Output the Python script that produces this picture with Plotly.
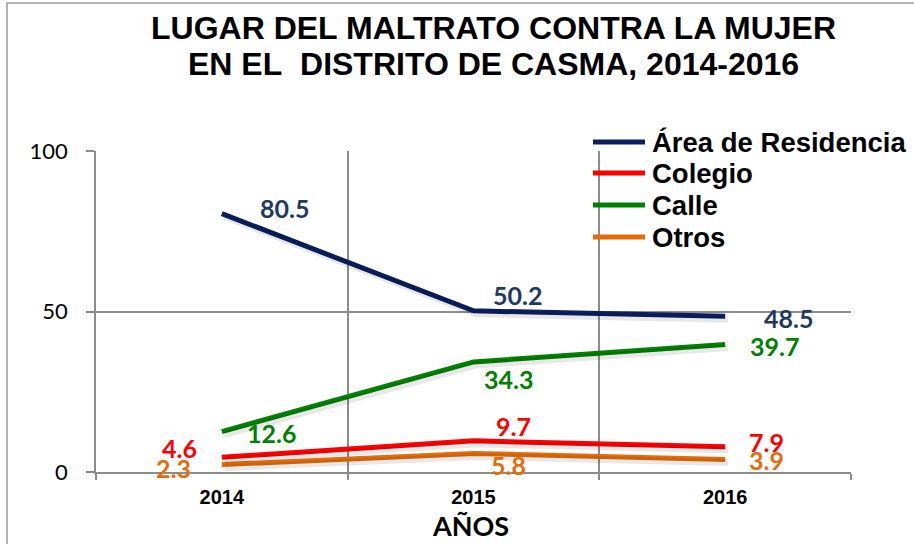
import plotly.graph_objects as go

# ---------------- data ----------------
years = ["2014", "2015", "2016"]
area_residencia = [80.5, 50.2, 48.5]
colegio = [4.6, 9.7, 7.9]
calle = [12.6, 34.3, 39.7]
otros = [2.3, 5.8, 3.9]
series_names = ["Área de Residencia", "Colegio", "Calle", "Otros"]
y_tick_values = [0, 50, 100]
title_lines = ["LUGAR DEL MALTRATO CONTRA LA MUJER", "EN EL\u00a0 DISTRITO DE CASMA, 2014-2016"]
x_title = "AÑOS"

series_values = [area_residencia, colegio, calle, otros]
x_pos = list(range(len(years)))

# ---------------- styles ----------------
W, H = 914, 544
PL, PR, PT, PB = 96, 851, 151, 472          # plot area in pixels
line_colors = ["#0B1F5E", "#FF0000", "#008000", "#E46C0A"]
label_colors = ["#1F3864", "#FF0000", "#008000", "#E46C0A"]
# per-point label pixel offsets (dx, dy up)
label_offsets = [
    [(63, 6), (44, 16), (63, -2)],
    [(-42, 9), (40, 15), (41, 5)],
    [(50, -1), (35, -17), (49, -1)],
    [(-48, -3), (35, -12), (41, -1)],
]
GRID = "#8C8C8C"


def px_x(px):
    return (px - PL) / (PR - PL)


def px_y(py):
    return (PB - py) / (PB - PT)


fig = go.Figure()

# soft drop shadows (same data on a slightly shifted overlay axis)
for vals in series_values:
    fig.add_trace(go.Scatter(x=x_pos, y=vals, mode="lines",
                             line=dict(color="rgba(0,0,0,0.09)", width=7),
                             xaxis="x2", yaxis="y2", hoverinfo="skip", showlegend=False))

for name, vals, col in zip(series_names, series_values, line_colors):
    fig.add_trace(go.Scatter(x=x_pos, y=vals, mode="lines", name=name,
                             line=dict(color=col, width=5), showlegend=False))

annotations = []
for vals, col, offs in zip(series_values, label_colors, label_offsets):
    for xv, yv, (dx, dy) in zip(x_pos, vals, offs):
        annotations.append(dict(x=xv, y=yv, xref="x", yref="y", text=f"<b>{yv:.1f}</b>",
                                showarrow=False, xshift=dx, yshift=dy,
                                xanchor="center", yanchor="middle",
                                font=dict(family="Lato", size=25, color=col)))

# title (two lines placed separately)
for line, cy in zip(title_lines, [28, 64]):
    annotations.append(dict(x=px_x(493), y=px_y(cy), xref="paper", yref="paper",
                            text=f"<b>{line}</b>", showarrow=False,
                            xanchor="center", yanchor="middle",
                            font=dict(family="Liberation Sans", size=32, color="black")))

# x-axis title
annotations.append(dict(x=px_x(470), y=px_y(525), xref="paper", yref="paper",
                        text=f"<b>{x_title}</b>", showarrow=False,
                        xanchor="center", yanchor="middle",
                        font=dict(family="Lato", size=27, color="black")))

# manual legend
legend_rows_y = [142, 173, 205, 237]
shapes = []
for name, col, ry in zip(series_names, line_colors, legend_rows_y):
    shapes.append(dict(type="line", xref="paper", yref="paper",
                       x0=px_x(593), x1=px_x(645), y0=px_y(ry), y1=px_y(ry),
                       line=dict(color=col, width=5)))
    annotations.append(dict(x=px_x(650), y=px_y(ry), xref="paper", yref="paper",
                            text=f"<b>{name}</b>", showarrow=False,
                            xanchor="left", yanchor="middle",
                            font=dict(family="Liberation Sans", size=27.5, color="black")))

# outer chart border
shapes.append(dict(type="rect", xref="paper", yref="paper", layer="below",
                   x0=px_x(7), x1=px_x(930), y0=px_y(560), y1=px_y(3),
                   line=dict(color="#9A9A9A", width=1.5), fillcolor="rgba(0,0,0,0)"))

sx = 3 / (PR - PL) * 3       # 3 px shift in category units
sy = 3 / (PB - PT) * 100     # 3 px shift in value units

fig.update_layout(
    width=W, height=H,
    margin=dict(l=PL, r=W - PR, t=PT, b=H - PB, pad=0),
    paper_bgcolor="white", plot_bgcolor="white",
    showlegend=False,
    xaxis=dict(range=[-0.5, 2.5], tickvals=x_pos, ticktext=years,
               showgrid=False, zeroline=False,
               showline=True, linecolor=GRID, linewidth=1.5,
               ticks="", ticklabelstandoff=6,
               tickfont=dict(family="Liberation Sans", size=20, color="black", weight="bold"),
               minor=dict(tickvals=[-0.5, 0.5, 1.5, 2.5], showgrid=True, gridcolor=GRID,
                          gridwidth=1.5, ticks="outside", ticklen=6, tickcolor=GRID,
                          tickwidth=1.5)),
    yaxis=dict(range=[0, 100], tickvals=y_tick_values,
               showgrid=True, gridcolor=GRID, gridwidth=1.5,
               showline=True, linecolor=GRID, linewidth=1.5,
               ticks="outside", ticklen=8, tickcolor=GRID, tickwidth=1.5,
               ticklabelstandoff=14, zeroline=False,
               tickfont=dict(family="Lato", size=22, color="black")),
    xaxis2=dict(overlaying="x", range=[-0.5 - sx, 2.5 - sx], visible=False),
    yaxis2=dict(overlaying="y", range=[sy, 100 + sy], visible=False),
    annotations=annotations,
    shapes=shapes,
)

fig.write_html("out.html", config={"displayModeBar": False},
               post_script="document.body.style.margin='0';document.body.style.padding='0';")
